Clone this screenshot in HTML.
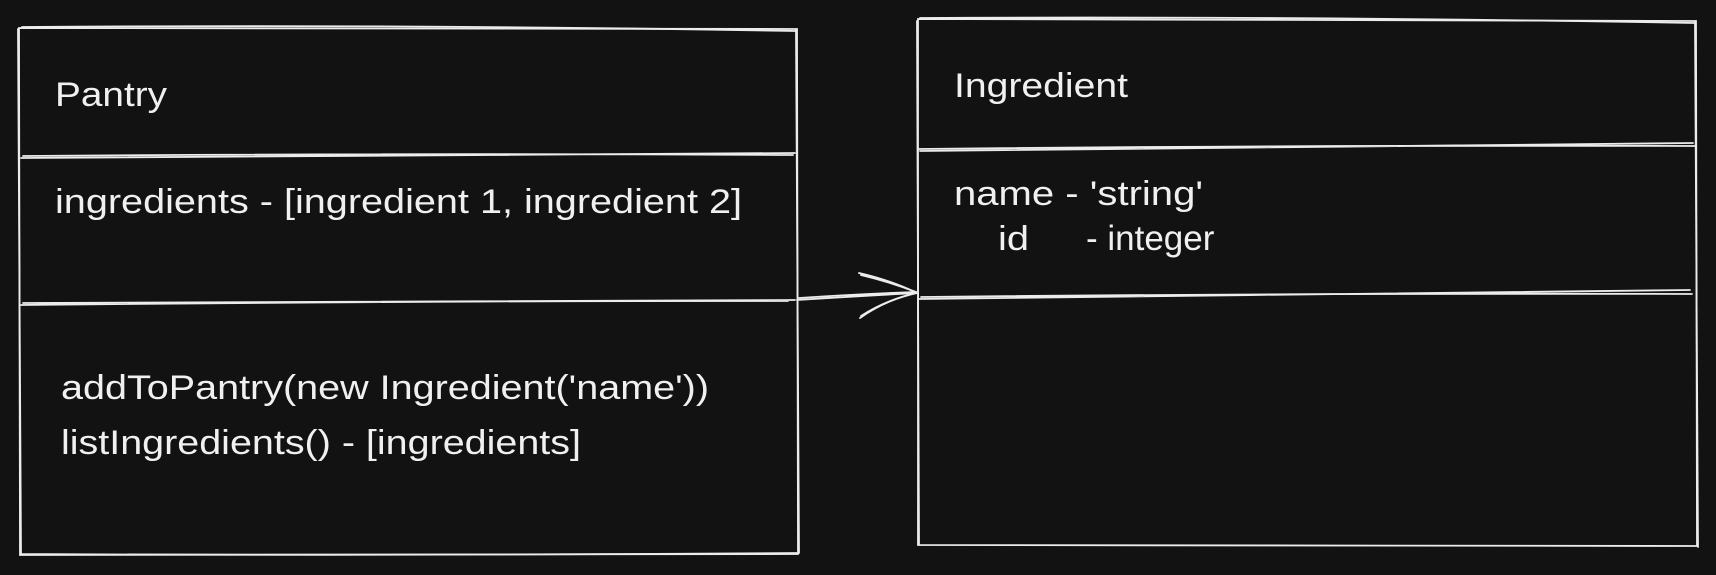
<!DOCTYPE html>
<html><head><meta charset="utf-8"><style>
html,body{margin:0;padding:0;background:#121212;}
svg{display:block}
text{font-family:"Liberation Sans",sans-serif;fill:#f0f0f0;font-size:34px;}
</style></head><body>
<svg width="1716" height="575" viewBox="0 0 1716 575" xmlns="http://www.w3.org/2000/svg">
<rect width="1716" height="575" fill="#121212"/>
<g stroke="#ececec" stroke-width="1.8" fill="none" stroke-linecap="round">
<path d="M19 28 L797 29 L798 554 L20 555 Z"/>
<path d="M22 27 Q400 24 795 31 M796 30 Q798 300 799 553 M797 553 Q400 556 21 554 M18 29 Q19 300 21 554"/>
<path d="M21 158 Q400 154 795 153 M23 156 Q400 153 793 155"/>
<path d="M21 305 Q400 301 788 301 M23 303 Q400 302 795 300"/>
<path d="M918 19 L1696 21 L1697 546 L918 545 Z"/>
<path d="M920 18 Q1300 16 1694 23 M1695 22 Q1697 300 1698 547 M917 21 Q918 300 919 544"/>
<path d="M920 151 Q1300 146 1693 143 M918 149 Q1300 145 1696 146"/>
<path d="M919 299 Q1300 295 1690 290 M921 297 Q1300 293 1692 294"/>
<path d="M797 300 Q860 296 917 293 M799 298 Q860 294 916 292"/>
<path d="M859 273 Q890 280 917 293 M861 275 Q890 282 916 292"/>
<path d="M860 318 Q885 300 917 293 M861 316 Q886 300 916 293"/>
</g>
<text x="55" y="106" textLength="112" lengthAdjust="spacingAndGlyphs">Pantry</text>
<text x="55" y="213" textLength="687" lengthAdjust="spacingAndGlyphs">ingredients - [ingredient 1, ingredient 2]</text>
<text x="61" y="399" textLength="648" lengthAdjust="spacingAndGlyphs">addToPantry(new Ingredient('name'))</text>
<text x="61" y="454" textLength="520" lengthAdjust="spacingAndGlyphs">listIngredients() - [ingredients]</text>
<text x="954" y="97" textLength="174" lengthAdjust="spacingAndGlyphs">Ingredient</text>
<text x="954" y="205" textLength="249" lengthAdjust="spacingAndGlyphs">name - 'string'</text>
<text x="998" y="250" textLength="31" lengthAdjust="spacingAndGlyphs">id</text>
<text x="1086" y="250" style="font-size:35px">- integer</text>
</svg>
</body></html>
